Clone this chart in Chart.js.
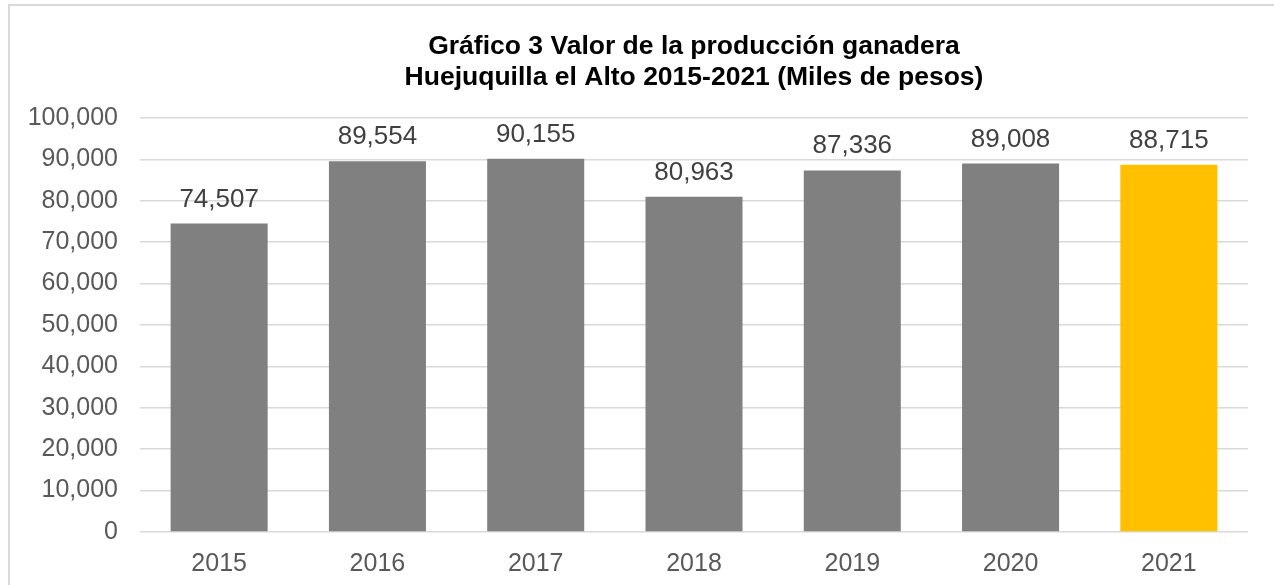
<!DOCTYPE html>
<html>
<head>
<meta charset="utf-8">
<script src="https://cdn.jsdelivr.net/npm/chart.js@4/dist/chart.umd.min.js"></script>
<style>
	html, body { margin: 0; padding: 0; background: #fff; overflow: hidden; }
	#frame {
		position: absolute; left: 8px; top: 4px;
		width: 1300px; height: 620px;
		border: 2px solid #d9d9d9;
	}
	#myChart { display: block; }
</style>
</head>
<body>
<div id="frame">
	<canvas id="myChart" width="1264" height="600"></canvas>
</div>
<script>
// datos del gráfico
const years = ["2015", "2016", "2017", "2018", "2019", "2020", "2021"];
const values = [74507, 89554, 90155, 80963, 87336, 89008, 88715];
const yTicks = [0, 10000, 20000, 30000, 40000, 50000, 60000, 70000, 80000, 90000, 100000];
const titleLines = [
	"Gráfico 3 Valor de la producción ganadera",
	"Huejuquilla el Alto 2015-2021 (Miles de pesos)",
];

(() => {
	"use strict";

	const fontFamily = "'Liberation Sans', Arial, sans-serif";
	const fmt = (v) => Number(v).toLocaleString("en-US");

	// etiquetas encima de cada barra
	const barLabels = {
		id: "barLabels",
		afterDatasetsDraw(chart) {
			const { ctx } = chart;
			const meta = chart.getDatasetMeta(0);
			ctx.save();
			ctx.font = "26px " + fontFamily;
			ctx.fillStyle = "#404040";
			ctx.textAlign = "center";
			ctx.textBaseline = "alphabetic";
			meta.data.forEach((bar, i) => {
				ctx.fillText(fmt(values[i]), bar.x, bar.y - 17);
			});
			ctx.restore();
		},
	};

	const ctx = document.getElementById("myChart");
	// eslint-disable-next-line no-unused-vars
	const myChart = new Chart(ctx, {
		type: "bar",
		data: {
			labels: years,
			datasets: [
				{
					data: values,
					backgroundColor: (c) => (c.dataIndex === years.length - 1 ? "#ffc000" : "#808080"),
					borderWidth: 0,
					categoryPercentage: 1,
					barPercentage: 0.613,
				},
			],
		},
		options: {
			responsive: false,
			animation: false,
			layout: { padding: { left: 0, right: 26, top: 0, bottom: 0 } },
			plugins: {
				legend: { display: false },
				tooltip: { enabled: false },
				title: {
					display: true,
					text: titleLines,
					fullSize: false,
					color: "#000000",
					font: { family: fontFamily, size: 26.5, weight: "bold", lineHeight: 1.17 },
					padding: { top: 25, bottom: 25 },
				},
			},
			scales: {
				x: {
					grid: { display: false },
					border: { display: false },
					ticks: {
						color: "#595959",
						padding: 9,
						font: { family: fontFamily, size: 25 },
					},
					afterFit(scale) {
						scale.height = 74;
					},
				},
				y: {
					min: 0,
					max: 100000,
					afterBuildTicks(scale) {
						scale.ticks = yTicks.map((v) => ({ value: v }));
					},
					grid: { color: "#d9d9d9", lineWidth: 1.5, drawTicks: false },
					border: { display: false },
					ticks: {
						color: "#595959",
						padding: 22,
						font: { family: fontFamily, size: 25 },
						callback: (v) => fmt(v),
					},
					afterFit(scale) {
						scale.width = 130;
					},
				},
			},
		},
		plugins: [barLabels],
	});
})();
</script>
</body>
</html>
